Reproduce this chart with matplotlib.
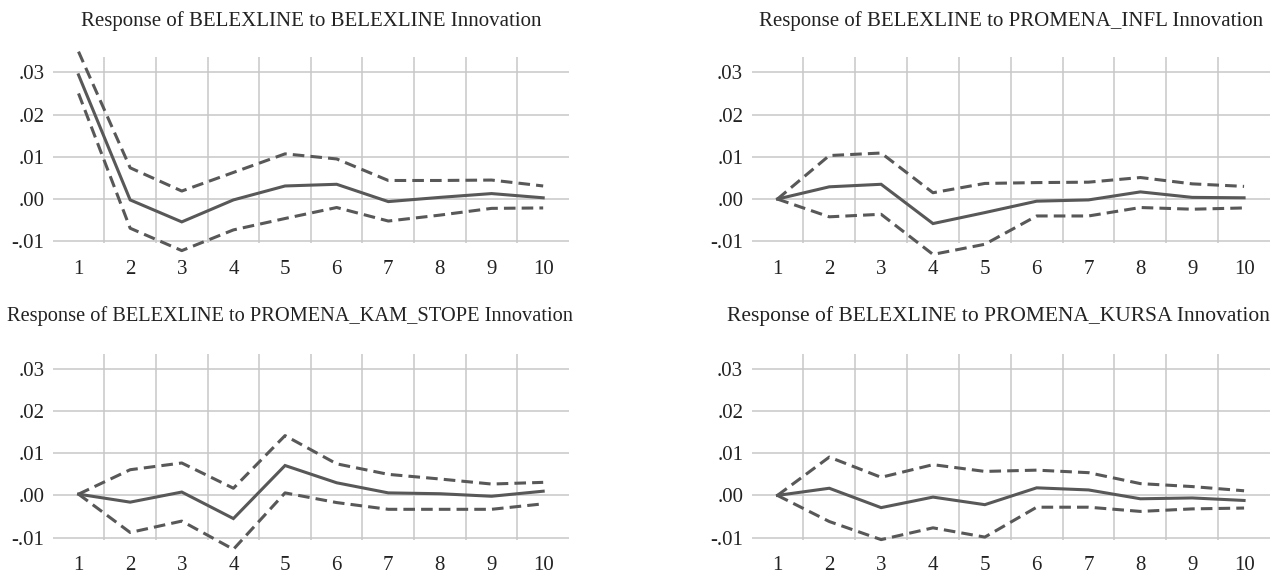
import matplotlib
matplotlib.use("Agg")
import matplotlib.pyplot as plt
import numpy as np

periods = list(range(1, 11))
tick_labels = [str(p) for p in periods]
ytick_vals = [-0.01, 0.0, 0.01, 0.02, 0.03]
ytick_labels = ["-.01", ".00", ".01", ".02", ".03"]

titles = [
    "Response of BELEXLINE to BELEXLINE Innovation",
    "Response of BELEXLINE to PROMENA_INFL Innovation",
    "Response of BELEXLINE to PROMENA_KAM_STOPE Innovation",
    "Response of BELEXLINE to PROMENA_KURSA Innovation",
]

# Panel 1: BELEXLINE shock
resp_belex = [0.0294, -0.0002, -0.0054, -0.0002, 0.0031, 0.0035, -0.0006, 0.0004, 0.0013, 0.0003]
upper_belex = [0.0349, 0.0074, 0.0019, 0.0063, 0.0107, 0.0095, 0.0044, 0.0044, 0.0045, 0.0031]
lower_belex = [0.0250, -0.0069, -0.0122, -0.0073, -0.0046, -0.0020, -0.0052, -0.0038, -0.0022, -0.0021]

# Panel 2: PROMENA_INFL shock
resp_infl = [0.0, 0.0029, 0.0035, -0.0058, -0.0032, -0.0005, -0.0002, 0.0017, 0.0004, 0.0003]
upper_infl = [0.0, 0.0103, 0.0109, 0.0015, 0.0037, 0.0039, 0.0040, 0.0051, 0.0036, 0.0030]
lower_infl = [0.0, -0.0042, -0.0036, -0.0131, -0.0107, -0.0040, -0.0040, -0.0020, -0.0024, -0.0021]

# Panel 3: PROMENA_KAM_STOPE shock
resp_kam = [0.0003, -0.0016, 0.0008, -0.0055, 0.0071, 0.0030, 0.0006, 0.0004, -0.0002, 0.0010]
upper_kam = [0.0003, 0.0061, 0.0077, 0.0017, 0.0142, 0.0075, 0.0050, 0.0039, 0.0027, 0.0031]
lower_kam = [0.0003, -0.0088, -0.0061, -0.0128, 0.0006, -0.0017, -0.0033, -0.0033, -0.0033, -0.0020]

# Panel 4: PROMENA_KURSA shock
resp_kursa = [0.0, 0.0017, -0.0029, -0.0004, -0.0022, 0.0018, 0.0013, -0.0008, -0.0006, -0.0012]
upper_kursa = [0.0, 0.0091, 0.0043, 0.0073, 0.0057, 0.0060, 0.0054, 0.0028, 0.0021, 0.0011]
lower_kursa = [0.0, -0.0062, -0.0105, -0.0077, -0.0099, -0.0028, -0.0028, -0.0038, -0.0032, -0.0030]

panels = [
    (resp_belex, upper_belex, lower_belex),
    (resp_infl, upper_infl, lower_infl),
    (resp_kam, upper_kam, lower_kam),
    (resp_kursa, upper_kursa, lower_kursa),
]

plt.rcParams['font.family'] = ['Liberation Serif', 'DejaVu Serif']

W, H = 1279, 576
fig = plt.figure(figsize=(W / 100, H / 100), dpi=100)

# axes rectangles in pixels: (left, right, top, bottom)
rects = [
    (52.7, 569.0, 56.7, 243.3),
    (751.5, 1270.0, 56.7, 243.3),
    (52.7, 569.0, 353.5, 539.5),
    (751.5, 1270.0, 353.5, 539.5),
]
title_pos = [(311, 21), (1011, 21), (290, 316), (998, 316)]
title_size = [15, 15, 14.7, 15.5]

line_col = '#585858'
grid_col = '#c8c8c8'

for i, ((resp, up, lo), (l, r, t, b)) in enumerate(zip(panels, rects)):
    ax = fig.add_axes([l / W, 1 - b / H, (r - l) / W, (b - t) / H])
    ax.set_xlim(0.5, 10.5)
    ax.set_ylim(-0.01047, 0.0337)
    for s in ax.spines.values():
        s.set_visible(False)
    for yv in ytick_vals:
        ax.axhline(yv, color=grid_col, lw=1.1, zorder=0)
    for xv in np.arange(1.5, 10.5, 1.0):
        ax.axvline(xv, color=grid_col, lw=1.1, zorder=0)
    ax.plot(periods, resp, color=line_col, lw=2.2, solid_joinstyle='miter', clip_on=False, zorder=3)
    ax.plot(periods, up, color=line_col, lw=2.2, ls=(0, (3.8, 2.0)), clip_on=False, zorder=3)
    ax.plot(periods, lo, color=line_col, lw=2.2, ls=(0, (3.8, 2.0)), clip_on=False, zorder=3)
    ax.set_xticks(periods)
    ax.set_xticklabels(tick_labels)
    ax.set_yticks(ytick_vals)
    ax.set_yticklabels(ytick_labels)
    ax.tick_params(axis='both', length=0, labelsize=15, colors='#222222')
    ax.tick_params(axis='x', pad=12)
    ax.tick_params(axis='y', pad=6)
    tx, ty = title_pos[i]
    fig.text(tx / W, 1 - ty / H, titles[i], ha='center', va='center', fontsize=title_size[i], color='#222222')

fig.savefig('out.png', dpi=100)
